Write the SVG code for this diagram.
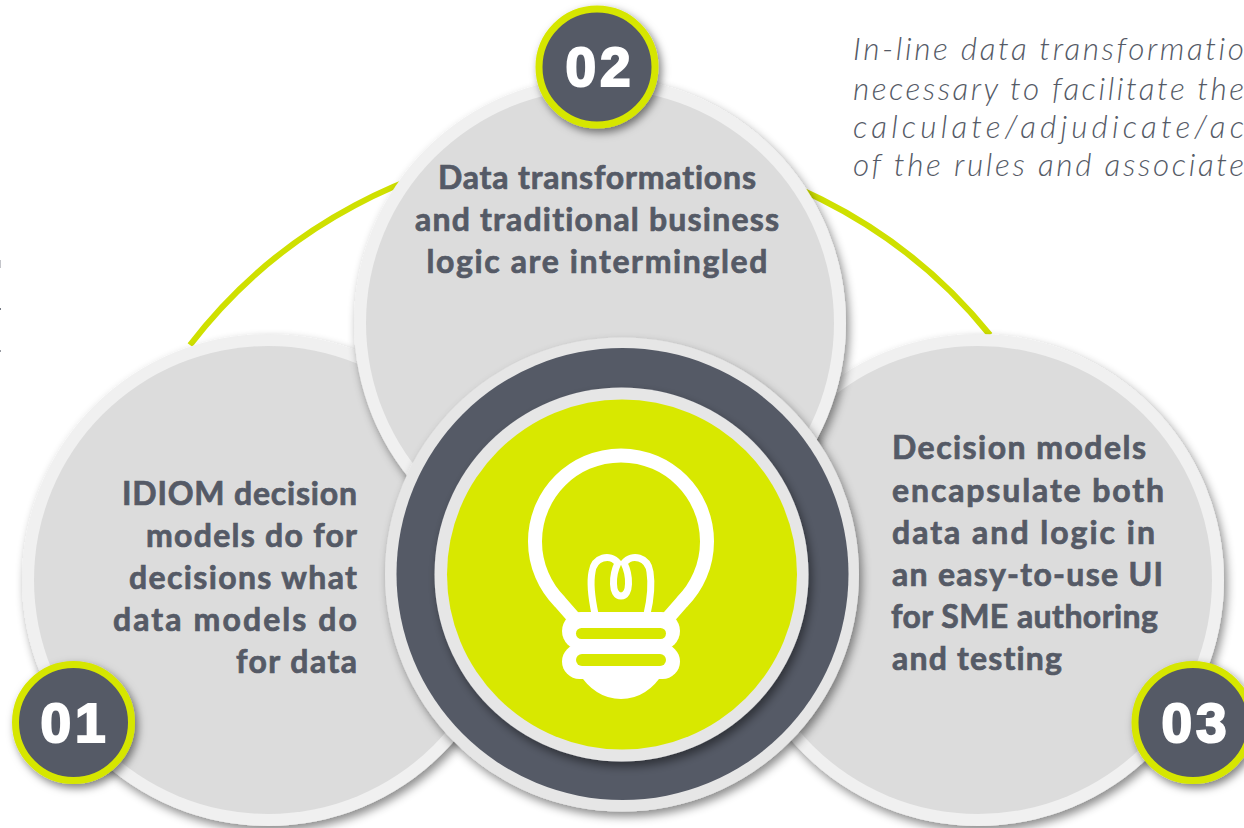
<svg xmlns="http://www.w3.org/2000/svg" width="1244" height="828" viewBox="0 0 1244 828">
<style>
.big{fill:#f0f0f0;stroke:none}
.in{fill:#dcdcdc}
.t{font-family:"Lato","Open Sans",sans-serif;font-weight:700;font-size:32px;fill:#555a66;stroke:#555a66;stroke-width:.7;font-variant-ligatures:none}
.i{font-family:"Lato","Open Sans",sans-serif;font-style:italic;font-weight:300;font-size:31.500px;fill:#555a66;font-variant-ligatures:none}
.num{font-family:"Liberation Sans",Arial,sans-serif;font-weight:700;font-size:55px;fill:#fff;stroke:#fff;stroke-width:2.2;text-anchor:middle;letter-spacing:4px}
.bd{fill:#555a66;stroke:#d6e600;stroke-width:7}
.bw{fill:none;stroke:#fff;stroke-linejoin:round;stroke-linecap:round}
</style>
<defs>
<filter id="s" x="-20%" y="-20%" width="140%" height="140%"><feDropShadow dx="3" dy="5" stdDeviation="5" flood-color="#000" flood-opacity=".45"/></filter>
<filter id="s2" x="-20%" y="-20%" width="140%" height="140%"><feDropShadow dx="3" dy="4" stdDeviation="4" flood-color="#000" flood-opacity=".5"/></filter>
</defs>
<rect width="1244" height="828" fill="#fff"/>
<g id="edge-marks" fill="#555a66">
<rect x="0" y="260" width="1" height="8" opacity=".35"/>
<rect x="0" y="308" width="1" height="2" opacity=".8"/>
<rect x="0" y="350" width="1" height="2" opacity=".6"/>
</g>
<g id="connectors">
<path d="M190 345A509 509 0 0 1 990 335" fill="none" stroke="#cfe000" stroke-width="6"/>
</g>
<g id="node-01">
<circle class="big" cx="268" cy="580" r="246" filter="url(#s)"/>
<circle class="in" cx="268" cy="580" r="234"/>
</g>
<g id="node-03">
<circle class="big" cx="978" cy="580" r="246" filter="url(#s)"/>
<circle class="in" cx="978" cy="580" r="234"/>
</g>
<g id="node-02">
<circle class="big" cx="600" cy="323" r="246" filter="url(#s)"/>
<circle class="in" cx="600" cy="323" r="234"/>
</g>
<g id="text-02">
<text class="t" x="597" y="189" text-anchor="middle" textLength="318">Data transformations</text>
<text class="t" x="597" y="231" text-anchor="middle" textLength="364">and traditional business</text>
<text class="t" x="597" y="273" text-anchor="middle" textLength="341">logic are intermingled</text>
</g>
<g id="text-01">
<text class="t" x="357" y="505" text-anchor="end" textLength="235">IDIOM decision</text>
<text class="t" x="357" y="547" text-anchor="end" textLength="211">models do for</text>
<text class="t" x="357" y="589" text-anchor="end" textLength="228">decisions what</text>
<text class="t" x="357" y="631" text-anchor="end" textLength="244">data models do</text>
<text class="t" x="357" y="673" text-anchor="end" textLength="121">for data</text>
</g>
<g id="text-03">
<text class="t" x="892" y="459" textLength="254">Decision models</text>
<text class="t" x="892" y="502" textLength="272">encapsulate both</text>
<text class="t" x="892" y="544" textLength="263">data and logic in</text>
<text class="t" x="892" y="586" textLength="271">an easy-to-use UI</text>
<text class="t" x="891" y="628" textLength="267">for SME authoring</text>
<text class="t" x="892" y="670" textLength="170">and testing</text>
</g>
<g id="node-center">
<circle cx="622" cy="574.500" r="237" fill="#e6e6e6" filter="url(#s)"/>
<circle cx="622.500" cy="574" r="226" fill="#555a66"/>
<circle cx="621.500" cy="574.500" r="187" fill="#e6e6e6" filter="url(#s)"/>
<circle cx="622" cy="574.500" r="175" fill="#d8e800"/>
<g id="bulb">
<path class="bw" stroke-width="14" d="M574 618L560 602A86 86 0 1 1 682 602L668 618"/>
<path class="bw" stroke-width="7" d="M595 614C591 595 590 582 592 572C594 557 610 553 618 563C612 575 611 596 621 596C631 596 630 575 624 563C632 553 648 557 650 572C652 585 651 597 647 614"/>
<rect x="572" y="614" width="98" height="30" fill="#fff"/>
<rect x="562" y="612" width="118" height="38" rx="19" fill="#fff"/>
<rect x="562" y="644" width="118" height="35" rx="17.500" fill="#fff"/>
<path fill="#fff" d="M578 672Q595 699 621 699Q647 699 664 672Z"/>
<rect x="576" y="628" width="90" height="11" rx="5.500" fill="#d8e800"/>
<rect x="576" y="654" width="90" height="12" rx="6" fill="#d8e800"/>
</g>
</g>
<g id="badge-01">
<circle class="bd" cx="73.500" cy="722.500" r="58" filter="url(#s2)"/>
<text class="num" x="75" y="742">01</text>
</g>
<g id="badge-02">
<circle class="bd" cx="597" cy="67" r="58" filter="url(#s2)"/>
<text class="num" x="600" y="86">02</text>
</g>
<g id="badge-03">
<circle class="bd" cx="1193" cy="722.500" r="58" filter="url(#s2)"/>
<text class="num" x="1196" y="742">03</text>
</g>
<g id="note">
<text class="i" x="853" y="60" textLength="391">In-line data transformatio</text>
<text class="i" x="853" y="100" textLength="391">necessary to facilitate the</text>
<text class="i" x="853" y="138" textLength="391">calculate/adjudicate/ac</text>
<text class="i" x="853" y="176" textLength="391">of the rules and associate</text>
</g>
</svg>
